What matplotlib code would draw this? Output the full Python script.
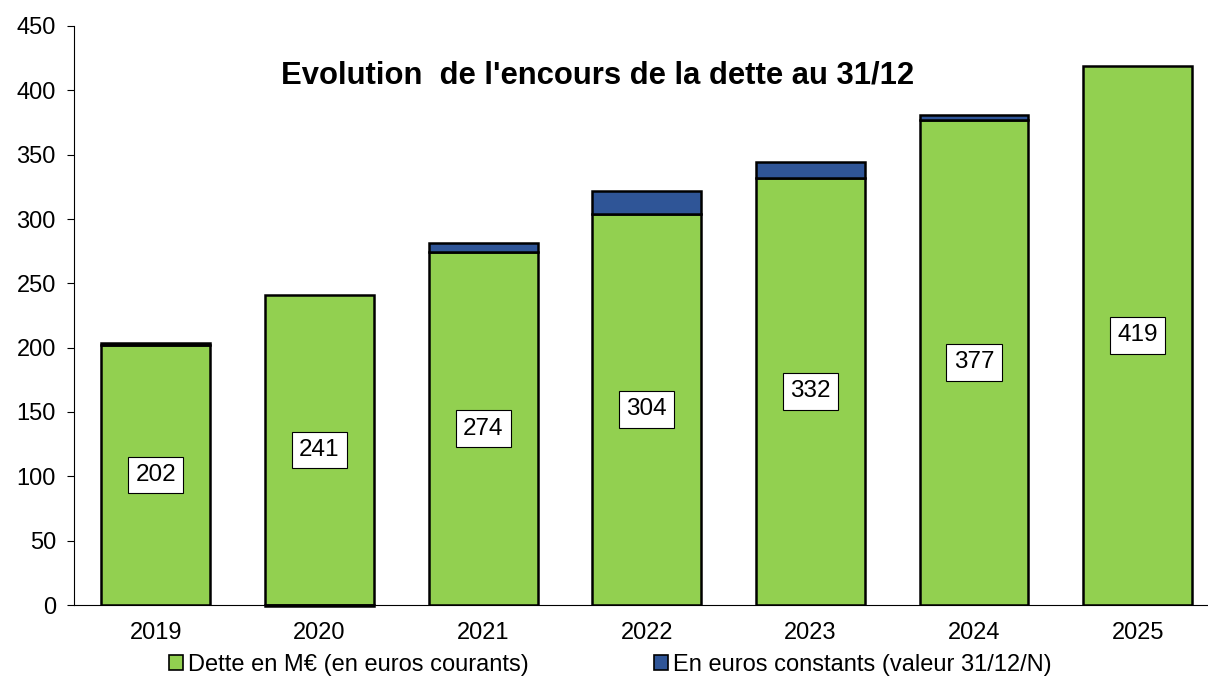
import matplotlib
matplotlib.use("Agg")
import matplotlib.pyplot as plt
from matplotlib.patches import Patch

plt.rcParams['font.family'] = ['Liberation Sans', 'DejaVu Sans']

years = ["2019", "2020", "2021", "2022", "2023", "2024", "2025"]
dette_courants = [202, 241, 274, 304, 332, 377, 419]
ecart_constants = [2, -1, 7, 18, 12, 4, 0]

green = "#92D050"
blue = "#2F5597"

fig = plt.figure(figsize=(12.08, 6.82), dpi=100)
ax = fig.add_axes([74 / 1208, 1 - 605 / 682, 1 - 74 / 1208, (605 - 26) / 682])

x = range(len(years))
width = 0.665
ax.bar(x, dette_courants, width=width, color=green, edgecolor="black", linewidth=1.8, zorder=2)
bottoms = [d if e >= 0 else 0 for d, e in zip(dette_courants, ecart_constants)]
for i, (b, e) in enumerate(zip(bottoms, ecart_constants)):
    if e != 0:
        ax.bar(i, e, bottom=b, width=width, color=blue, edgecolor="black", linewidth=1.8,
               zorder=2, clip_on=False)

for i, v in enumerate(dette_courants):
    ax.text(i, v / 2, str(v), ha="center", va="center", fontsize=17.5,
            bbox=dict(boxstyle="square,pad=0.3", facecolor="white", edgecolor="black", linewidth=0.8),
            zorder=3)

ax.set_xlim(-0.5, 6.43)
ax.set_ylim(0, 450)
ax.set_yticks(range(0, 451, 50))
ax.set_xticks(list(x))
ax.set_xticklabels(years)
ax.tick_params(axis="y", labelsize=17, length=5, direction="out", width=0.8, pad=8)
ax.tick_params(axis="x", labelsize=17, length=0, pad=12)
for side in ("top", "right"):
    ax.spines[side].set_visible(False)
ax.spines["left"].set_linewidth(0.8)
ax.spines["bottom"].set_linewidth(0.8)

ax.text(0.462, 0.915, "Evolution  de l'encours de la dette au 31/12", transform=ax.transAxes,
        ha="center", va="center", fontsize=22.3, fontweight="bold")

handles = [Patch(facecolor=green, edgecolor="black", linewidth=1.2),
           Patch(facecolor=blue, edgecolor="black", linewidth=1.2)]
fig.legend(handles, ["Dette en M€ (en euros courants)", "En euros constants (valeur 31/12/N)"],
           loc="center", bbox_to_anchor=(0.505, 1 - 665 / 682), ncol=2, frameon=False,
           fontsize=17, handlelength=0.6, handleheight=0.6, handletextpad=0.2, columnspacing=5.3)

fig.savefig("out.png", dpi=100)
